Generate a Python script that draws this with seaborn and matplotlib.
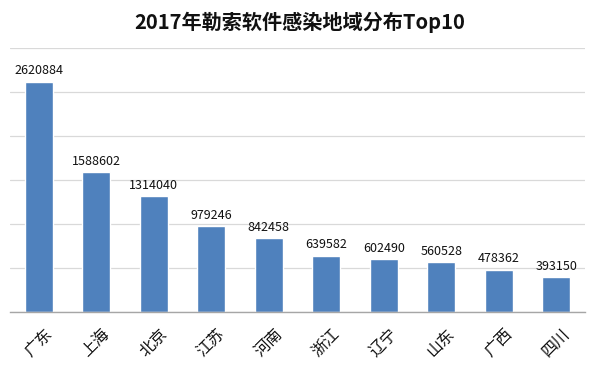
import pandas as pd
import matplotlib
matplotlib.use('Agg')
import matplotlib.pyplot as plt
import matplotlib.transforms as mtransforms
import seaborn as sns

# 数据
provinces = ['广东', '上海', '北京', '江苏', '河南', '浙江', '辽宁', '山东', '广西', '四川']
infections = [2620884, 1588602, 1314040, 979246, 842458, 639582, 602490, 560528, 478362, 393150]

df = pd.DataFrame({'省份': provinces, '感染量': infections})

sns.set_theme(style='white')
plt.rcParams['font.family'] = ['Noto Sans CJK SC', 'DejaVu Sans']

fig = plt.figure(figsize=(6, 3.75), dpi=100)
ax = fig.add_axes([0.0167, 0.169, 0.9583, 0.702])

sns.barplot(data=df, x='省份', y='感染量', color='#4F81BD', saturation=1, width=0.49, ax=ax)

ax.set_ylim(0, 3000000)
ax.set_yticks(range(0, 3000001, 500000))
ax.yaxis.grid(True, color='#d9d9d9', linewidth=0.9)
ax.set_axisbelow(True)
ax.set_yticklabels([])
ax.tick_params(axis='y', length=0)
ax.tick_params(axis='x', length=0, pad=10)
ax.set_xlim(-0.5, len(provinces) - 0.5)

for s in ['top', 'right', 'left']:
    ax.spines[s].set_visible(False)
ax.spines['bottom'].set_color('#a6a6a6')
ax.spines['bottom'].set_linewidth(1)

shift = mtransforms.ScaledTranslation(5 / 100, 0, fig.dpi_scale_trans)
for lbl in ax.get_xticklabels():
    lbl.set_rotation(45)
    lbl.set_ha('right')
    lbl.set_va('top')
    lbl.set_rotation_mode('anchor')
    lbl.set_fontsize(11.5)
    lbl.set_color('#111111')
    lbl.set_transform(lbl.get_transform() + shift)

ax.bar_label(ax.containers[0], labels=[str(v) for v in infections], padding=3,
             fontsize=9, color='#111111')

ax.set_xlabel('')
ax.set_ylabel('')
fig.text(0.5, 0.94, '2017年勒索软件感染地域分布Top10', ha='center', va='center',
         fontsize=14.5, fontweight='bold', color='#111111')

fig.savefig('out.png', dpi=100)
